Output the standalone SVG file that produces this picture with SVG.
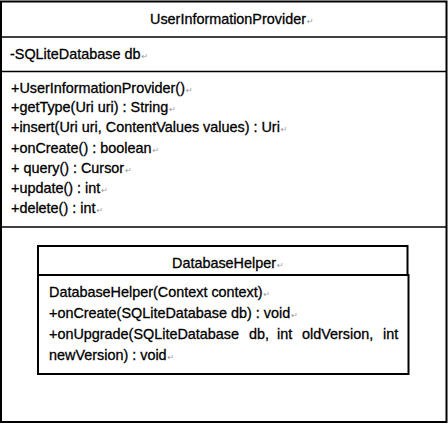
<svg xmlns="http://www.w3.org/2000/svg" width="448" height="424" viewBox="0 0 448 424">
<style>
.box{fill:none;stroke:#000;stroke-width:2}
.sep{stroke:#000;stroke-width:1.5}
.t{font-family:"Liberation Sans","Noto Sans CJK SC",sans-serif;font-size:14.4px;fill:#000;stroke:#000;stroke-width:0.3}
.rm{font-family:"DejaVu Sans",sans-serif;font-size:8px;fill:#999;stroke:none}
</style>
<rect x="0" y="0" width="448" height="424" fill="#fff"/>
<g id="UserInformationProvider">
<rect class="box" x="1" y="1.5" width="445.5" height="420.5"/>
<line class="sep" x1="1" y1="37" x2="446.5" y2="37"/>
<line class="sep" x1="1" y1="71.5" x2="446.5" y2="71.5"/>
<line class="sep" x1="1" y1="227" x2="446.5" y2="227"/>
<text class="t" x="150" y="24">UserInformationProvider<tspan class="rm" dx="1">↵</tspan></text>
<text class="t" x="10" y="58.5">-SQLiteDatabase db<tspan class="rm" dx="1">↵</tspan></text>
<text class="t" x="11" y="93">+UserInformationProvider()<tspan class="rm" dx="1">↵</tspan></text>
<text class="t" x="11" y="112">+getType(Uri uri) : String<tspan class="rm" dx="1">↵</tspan></text>
<text class="t" x="11" y="132">+insert(Uri uri, ContentValues values) : Uri<tspan class="rm" dx="1">↵</tspan></text>
<text class="t" x="11" y="153">+onCreate() : boolean<tspan class="rm" dx="1">↵</tspan></text>
<text class="t" x="11" y="173">+ query() : Cursor<tspan class="rm" dx="1">↵</tspan></text>
<text class="t" x="11" y="193">+update() : int<tspan class="rm" dx="1">↵</tspan></text>
<text class="t" x="11" y="213">+delete() : int<tspan class="rm" dx="1">↵</tspan></text>
</g>
<g id="DatabaseHelper">
<rect class="box" x="38" y="246" width="369.5" height="29"/>
<rect class="box" x="38" y="275" width="370.5" height="99"/>
<text class="t" x="172" y="268">DatabaseHelper<tspan class="rm" dx="1">↵</tspan></text>
<text class="t" x="49" y="297">DatabaseHelper(Context context)<tspan class="rm" dx="1">↵</tspan></text>
<text class="t" x="49" y="318">+onCreate(SQLiteDatabase db) : void<tspan class="rm" dx="1">↵</tspan></text>
<text class="t" x="49" y="339">+onUpgrade(SQLiteDatabase<tspan x="249">db,</tspan><tspan x="277">int</tspan><tspan x="302">oldVersion,</tspan><tspan x="383">int</tspan></text>
<text class="t" x="49" y="360">newVersion) : void<tspan class="rm" dx="1">↵</tspan></text>
</g>
<g id="connectors"/>
</svg>
